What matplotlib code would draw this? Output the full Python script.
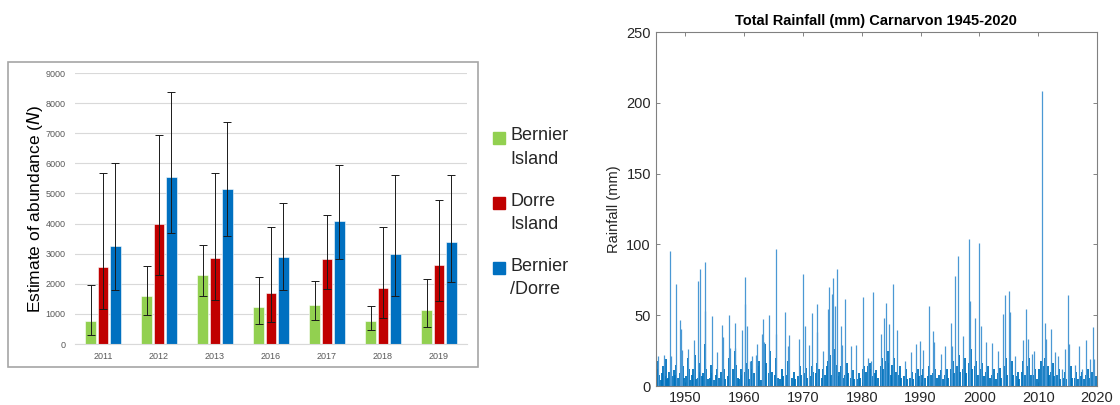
import matplotlib
matplotlib.use("Agg")
import matplotlib.pyplot as plt
from matplotlib.patches import Rectangle
import numpy as np

# ---- left panel: abundance estimates ----
years = ['2011', '2012', '2013', '2016', '2017', '2018', '2019']
series = ['Bernier\nIsland', 'Dorre\nIsland', 'Bernier\n/Dorre']
colors = ['#92D050', '#C00000', '#0070C0']

bernier = [750, 1580, 2290, 1220, 1290, 770, 1120]
bernier_lo = [300, 950, 1580, 670, 800, 460, 580]
bernier_hi = [1970, 2600, 3300, 2240, 2100, 1270, 2170]

dorre = [2550, 3980, 2860, 1700, 2810, 1860, 2610]
dorre_lo = [1150, 2300, 1450, 740, 1840, 880, 1440]
dorre_hi = [5670, 6930, 5670, 3880, 4290, 3900, 4770]

combined = [3260, 5560, 5150, 2900, 4100, 2990, 3380]
combined_lo = [1780, 3700, 3600, 1800, 2820, 1600, 2050]
combined_hi = [6000, 8360, 7380, 4680, 5940, 5600, 5600]

# ---- right panel: daily rainfall at Carnarvon (mm), larger falls ----
big_falls = [
    (1945.4, 21), (1946.4, 22), (1947.37, 95.5), (1947.6, 21), (1948.4, 71.7),
    (1949.06, 46.5), (1949.3, 40.6), (1949.5, 25.7), (1950.5, 26), (1951.5, 32.8),
    (1952.2, 74), (1952.5, 82.3), (1953.3, 87.5), (1953.35, 53), (1954.5, 49.3),
    (1955.4, 24), (1956.2, 43), (1956.5, 34.7), (1957.4, 50.2), (1957.6, 27),
    (1958.4, 44.6), (1958.5, 27), (1959.6, 39.9), (1960.1, 77.1), (1960.12, 58),
    (1960.5, 42.2), (1961.0, 18), (1961.3, 21), (1962.0, 22), (1962.2, 30),
    (1963.1, 37), (1963.3, 47), (1963.4, 31), (1964.2, 50.5), (1965.4, 97),
    (1965.45, 37), (1967.0, 52), (1967.5, 28), (1967.6, 35.8), (1969.3, 33.5),
    (1970.06, 79), (1970.4, 42.2), (1971.1, 28.8), (1971.5, 51.7), (1972.4, 58),
    (1972.45, 38), (1973.4, 24.8), (1974.3, 54.7), (1974.5, 69.6), (1975.0, 64.9),
    (1975.1, 76.4), (1975.4, 56.4), (1975.8, 82.3), (1976.4, 42.2), (1976.7, 28.8),
    (1977.2, 61.8), (1978.2, 28), (1979.1, 29.2), (1980.3, 63), (1981.1, 20),
    (1981.5, 17.7), (1981.9, 66.3), (1983.3, 36.6), (1983.8, 48.1), (1984.2, 58.7),
    (1984.6, 43.6), (1985.3, 72.2), (1986.0, 39.9), (1987.3, 17.7), (1988.3, 24),
    (1989.3, 30), (1989.9, 31.8), (1990.4, 25.7), (1991.4, 56.4), (1992.2, 38.7),
    (1992.25, 31), (1993.4, 22.4), (1994.1, 28.3), (1995.1, 44.6), (1995.3, 28.3),
    (1995.8, 77.8), (1996.4, 91.7), (1997.2, 35.4), (1998.3, 103.5), (1998.4, 59.9),
    (1999.2, 48.1), (2000.0, 101.2), (2000.2, 42.2), (2001.15, 31.1), (2002.1, 30.4),
    (2003.25, 24.8), (2004.0, 51.2), (2004.4, 64.6), (2005.1, 67), (2005.2, 52.4),
    (2006.1, 21.2), (2007.35, 32.8), (2008.0, 54.5), (2008.3, 33.5), (2008.9, 22.9),
    (2009.3, 24.5), (2010.7, 208.7), (2011.1, 44.6), (2011.3, 33.5), (2012.2, 40.6),
    (2012.8, 24), (2013.3, 21), (2014.1, 11.8), (2014.5, 26), (2015.0, 64.6),
    (2015.3, 29.5), (2016.3, 15.1), (2016.9, 28.3), (2017.5, 11.8), (2018.2, 32.8),
    (2018.8, 18.9), (2019.3, 41.7), (2019.5, 19),
]

# smaller falls making up the dense base of the series
small_falls = [
    (1945.1, 6), (1945.3, 12), (1945.45, 18), (1945.6, 8), (1945.85, 4),
    (1946.1, 9), (1946.3, 14), (1946.5, 7), (1946.7, 19), (1946.9, 5),
    (1947.1, 6), (1947.3, 10), (1947.55, 20), (1947.8, 7),
    (1948.1, 11), (1948.3, 8), (1948.5, 15), (1948.75, 6),
    (1949.15, 9), (1949.4, 22), (1949.6, 14), (1949.85, 6),
    (1950.2, 7), (1950.45, 20), (1950.65, 12), (1950.9, 4),
    (1951.2, 8), (1951.4, 12), (1951.6, 22), (1951.85, 5),
    (1952.1, 6), (1952.35, 16), (1952.6, 10), (1952.85, 7),
    (1953.1, 9), (1953.4, 30), (1953.55, 12), (1953.8, 5),
    (1954.2, 6), (1954.4, 15), (1954.6, 9), (1954.85, 4),
    (1955.2, 8), (1955.45, 12), (1955.7, 6),
    (1956.15, 10), (1956.35, 18), (1956.6, 12), (1956.85, 5),
    (1957.2, 7), (1957.5, 20), (1957.7, 10),
    (1958.2, 12), (1958.45, 25), (1958.65, 15), (1958.9, 6),
    (1959.2, 5), (1959.45, 12), (1959.7, 8),
    (1960.2, 10), (1960.3, 16), (1960.6, 12), (1960.85, 5),
    (1961.15, 12), (1961.4, 18), (1961.65, 9),
    (1962.2, 8), (1962.4, 14), (1962.6, 18), (1962.85, 4),
    (1963.15, 12), (1963.5, 30), (1963.7, 16),
    (1964.2, 9), (1964.45, 25), (1964.7, 10),
    (1965.2, 8), (1965.5, 20), (1965.75, 6),
    (1966.2, 5), (1966.45, 12), (1966.7, 7),
    (1967.2, 8), (1967.4, 18), (1967.7, 10),
    (1968.2, 6), (1968.5, 10), (1968.7, 5),
    (1969.2, 7), (1969.5, 14), (1969.75, 8),
    (1970.2, 9), (1970.5, 13), (1970.75, 6),
    (1971.2, 7), (1971.5, 14), (1971.75, 10),
    (1972.2, 9), (1972.45, 16), (1972.7, 12),
    (1973.2, 6), (1973.5, 12), (1973.75, 8),
    (1974.15, 14), (1974.35, 18), (1974.6, 22), (1974.85, 8),
    (1975.2, 20), (1975.5, 26), (1975.65, 15), (1975.9, 7),
    (1976.2, 10), (1976.5, 14), (1976.75, 6),
    (1977.2, 8), (1977.5, 16), (1977.75, 9),
    (1978.2, 6), (1978.5, 11), (1978.75, 5),
    (1979.2, 5), (1979.5, 9), (1979.75, 6),
    (1980.2, 12), (1980.45, 14), (1980.7, 10),
    (1981.15, 14), (1981.4, 16), (1981.6, 12), (1981.85, 7),
    (1982.2, 9), (1982.45, 11), (1982.75, 6),
    (1983.2, 14), (1983.45, 20), (1983.7, 12),
    (1984.2, 18), (1984.45, 25), (1984.7, 16), (1984.9, 8),
    (1985.2, 15), (1985.5, 20), (1985.75, 10),
    (1986.2, 8), (1986.5, 14), (1986.75, 6),
    (1987.2, 7), (1987.5, 12), (1987.75, 5),
    (1988.2, 6), (1988.5, 10), (1988.75, 5),
    (1989.2, 9), (1989.5, 12), (1989.75, 7),
    (1990.2, 8), (1990.5, 12), (1990.75, 6),
    (1991.2, 7), (1991.5, 14), (1991.75, 8),
    (1992.2, 9), (1992.5, 12), (1992.75, 6),
    (1993.2, 8), (1993.5, 11), (1993.75, 5),
    (1994.2, 8), (1994.5, 12), (1994.75, 6),
    (1995.2, 12), (1995.5, 18), (1995.75, 9),
    (1996.2, 14), (1996.5, 22), (1996.75, 10),
    (1997.2, 12), (1997.5, 20), (1997.75, 9),
    (1998.2, 16), (1998.5, 26), (1998.75, 12),
    (1999.2, 14), (1999.5, 18), (1999.75, 8),
    (2000.2, 12), (2000.5, 16), (2000.75, 7),
    (2001.2, 10), (2001.5, 14), (2001.75, 6),
    (2002.2, 8), (2002.5, 12), (2002.75, 5),
    (2003.2, 9), (2003.5, 13), (2003.75, 6),
    (2004.2, 14), (2004.5, 20), (2004.75, 8),
    (2005.2, 12), (2005.5, 18), (2005.75, 8),
    (2006.2, 7), (2006.5, 10), (2006.75, 5),
    (2007.2, 10), (2007.5, 18), (2007.75, 8),
    (2008.2, 14), (2008.5, 20), (2008.75, 8),
    (2009.2, 8), (2009.5, 12), (2009.75, 5),
    (2010.2, 12), (2010.5, 18), (2010.9, 14),
    (2011.2, 20), (2011.4, 26), (2011.6, 14), (2011.85, 8),
    (2012.2, 10), (2012.5, 16), (2012.75, 7),
    (2013.2, 8), (2013.5, 12), (2013.75, 5),
    (2014.2, 6), (2014.5, 10), (2014.75, 5),
    (2015.2, 10), (2015.5, 14), (2015.75, 6),
    (2016.2, 6), (2016.5, 10), (2016.75, 5),
    (2017.2, 7), (2017.5, 10), (2017.75, 5),
    (2018.2, 8), (2018.5, 12), (2018.75, 6),
    (2019.2, 10), (2019.5, 18), (2019.75, 7),
]

plt.rcParams['font.family'] = ['Liberation Sans', 'DejaVu Sans']

fig = plt.figure(figsize=(11.2, 4.05), dpi=100)

# frame around the left chart (Excel chart border)
fig.patches.append(Rectangle((0.0071, 0.0938), 0.4196, 0.753, transform=fig.transFigure,
                             fill=False, edgecolor='#a6a6a6', linewidth=1.2))

ax = fig.add_axes((0.067, 0.1506, 0.35, 0.669))
x = np.arange(len(years))
w = 0.19
offs = [-0.22, 0.0, 0.22]
vals = [bernier, dorre, combined]
los = [bernier_lo, dorre_lo, combined_lo]
his = [bernier_hi, dorre_hi, combined_hi]
for i in range(3):
    v = np.array(vals[i])
    err = [v - np.array(los[i]), np.array(his[i]) - v]
    ax.bar(x + offs[i], v, w, color=colors[i], edgecolor='white', linewidth=0.4, zorder=2)
    ax.errorbar(x + offs[i], v, yerr=err, fmt='none', ecolor='#1a1a1a', elinewidth=0.7,
                capsize=3.2, capthick=0.7, zorder=3)

ax.set_xlim(-0.5, len(years) - 0.5)
ax.set_ylim(0, 9000)
ax.set_yticks(range(0, 9001, 1000))
ax.set_xticks(x)
ax.set_xticklabels(years)
ax.tick_params(axis='both', length=0, labelsize=6.5, labelcolor='#595959')
ax.tick_params(axis='y', pad=7)
ax.tick_params(axis='x', pad=6)
ax.grid(axis='y', color='#d9d9d9', linewidth=0.8, zorder=0)
ax.set_axisbelow(True)
for s in ['top', 'right', 'left']:
    ax.spines[s].set_visible(False)
ax.spines['bottom'].set_color('#d9d9d9')
ax.set_ylabel('Estimate of abundance ($\\it{N}$)', fontsize=12.5, labelpad=0)

# legend to the right of the plot area
leg_top = [0.80, 0.558, 0.318]
for i in range(3):
    ax.plot([1.082], [leg_top[i] - 0.038], marker='s', markersize=8, color=colors[i],
            transform=ax.transAxes, clip_on=False)
    ax.text(1.11, leg_top[i], series[i], transform=ax.transAxes, fontsize=13,
            va='top', ha='left', linespacing=1.5, color='#262626')

# ---- right chart ----
ax2 = fig.add_axes((0.5855, 0.0469, 0.394, 0.874))
small_t = [p[0] for p in small_falls]
small_mm = [p[1] for p in small_falls]
big_t = [p[0] for p in big_falls]
big_mm = [p[1] for p in big_falls]
ax2.vlines(small_t, 0, small_mm, color='#0072BD', linewidth=1.3)
ax2.vlines(big_t, 0, big_mm, color='#4a98d4', linewidth=0.9)
ax2.set_xlim(1945, 2020)
ax2.set_ylim(0, 250)
ax2.set_xticks(range(1950, 2021, 10))
ax2.set_yticks(range(0, 251, 50))
ax2.tick_params(direction='in', length=3, width=0.6, top=True, right=True,
                labelsize=10.5, labelcolor='#262626', color='#707070')
for s in ax2.spines.values():
    s.set_color('#808080')
    s.set_linewidth(0.8)
ax2.set_ylabel('Rainfall (mm)', fontsize=10.5, color='#262626')
ax2.set_title('Total Rainfall (mm) Carnarvon 1945-2020', fontsize=10.5, fontweight='bold',
              color='black', pad=5)

fig.savefig('out.png', dpi=100)
